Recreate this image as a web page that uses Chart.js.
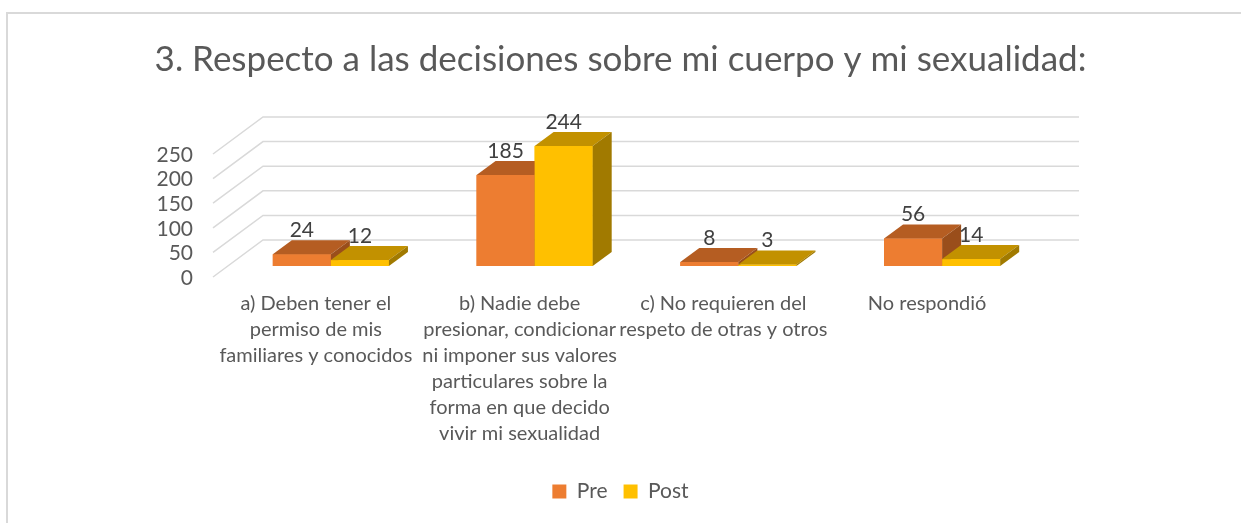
<!DOCTYPE html>
<html>
<head>
<meta charset="utf-8">
<script src="https://cdn.jsdelivr.net/npm/chart.js@4"></script>
<style>
  body { margin: 0; background: #fff; }
  #wrap { width: 1241px; height: 523px; }
</style>
</head>
<body>
<div id="wrap"><canvas id="decisionesChart"></canvas></div>
<script>
const categorias = [
  ["a) Deben tener el", "permiso de mis", "familiares y conocidos"],
  ["b) Nadie debe", "presionar, condicionar", "ni imponer sus valores", "particulares sobre la", "forma en que decido", "vivir mi sexualidad"],
  ["c) No requieren del", "respeto de otras y otros"],
  ["No respondió"]
];
const valoresPre = [24, 185, 8, 56];
const valoresPost = [12, 244, 3, 14];
const ticksY = [0, 50, 100, 150, 200, 250];

const FUENTE = "Lato, 'Open Sans', sans-serif";
const GRIS = '#595959';

// fake 3d: back wall, plane where the bars stand, depth of each bar
const FONDO = { dx: 50, dy: -37 };
const PLANO = { dx: 15, dy: -12 };
const PROF = { dx: 19, dy: -14 };

const caras = [
  { frente: '#ED7D31', techo: '#B55D22', lado: '#9A4E1B' },
  { frente: '#FFC000', techo: '#C29100', lado: '#A17A00' }
];

const marco = {
  id: 'marco',
  beforeDraw(chart) {
    const ctx = chart.ctx;
    ctx.save();
    ctx.strokeStyle = '#d9d9d9';
    ctx.lineWidth = 2;
    ctx.beginPath();
    ctx.moveTo(7, 523);
    ctx.lineTo(7, 13);
    ctx.lineTo(1241, 13);
    ctx.stroke();
    ctx.restore();
  }
};

const barras3d = {
  id: 'barras3d',
  beforeDatasetsDraw(chart) {
    const { ctx, chartArea, scales } = chart;
    ctx.save();
    ctx.strokeStyle = '#d9d9d9';
    ctx.lineWidth = 1.5;
    ticksY.forEach(v => {
      const py = scales.y.getPixelForValue(v) - 1;
      ctx.beginPath();
      ctx.moveTo(chartArea.left - 1, py);
      ctx.lineTo(chartArea.left - 1 + FONDO.dx, py + FONDO.dy);
      ctx.lineTo(chartArea.right + FONDO.dx, py + FONDO.dy);
      ctx.stroke();
    });
    ctx.restore();
    // bars sit a little behind the front edge
    ctx.save();
    ctx.translate(PLANO.dx, PLANO.dy);
  },
  afterDatasetsDraw(chart) {
    const ctx = chart.ctx;
    const metas = [chart.getDatasetMeta(0), chart.getDatasetMeta(1)];
    for (let i = 0; i < categorias.length; i++) {
      metas.forEach((meta, d) => {
        const bar = meta.data[i];
        const c = caras[d];
        const x0 = bar.x - bar.width / 2;
        const x1 = bar.x + bar.width / 2;
        const top = bar.y, base = bar.base;
        ctx.fillStyle = c.frente;
        ctx.fillRect(x0, top, x1 - x0, base - top);
        ctx.fillStyle = c.techo;
        ctx.beginPath();
        ctx.moveTo(x0, top);
        ctx.lineTo(x1, top);
        ctx.lineTo(x1 + PROF.dx, top + PROF.dy);
        ctx.lineTo(x0 + PROF.dx, top + PROF.dy);
        ctx.closePath();
        ctx.fill();
        ctx.fillStyle = c.lado;
        ctx.beginPath();
        ctx.moveTo(x1, top);
        ctx.lineTo(x1 + PROF.dx, top + PROF.dy);
        ctx.lineTo(x1 + PROF.dx, base + PROF.dy);
        ctx.lineTo(x1, base);
        ctx.closePath();
        ctx.fill();
      });
    }
    ctx.fillStyle = '#404040';
    ctx.font = '21px ' + FUENTE;
    ctx.textAlign = 'center';
    ctx.textBaseline = 'middle';
    metas.forEach((meta, d) => {
      meta.data.forEach((bar, i) => {
        ctx.fillText(String(chart.data.datasets[d].data[i]), bar.x, bar.y - 24);
      });
    });
    ctx.restore();
  }
};

const config = {
  type: 'bar',
  data: {
    labels: categorias,
    datasets: [
      { label: 'Pre', data: valoresPre, backgroundColor: caras[0].frente, borderWidth: 0 },
      { label: 'Post', data: valoresPost, backgroundColor: caras[1].frente, borderWidth: 0 }
    ]
  },
  options: {
    responsive: true,
    maintainAspectRatio: false,
    animation: false,
    layout: { padding: { top: 0, left: 0, right: 0, bottom: 11 } },
    datasets: { bar: { categoryPercentage: 0.57, barPercentage: 1.0 } },
    scales: {
      x: {
        grid: { display: false, drawTicks: false },
        border: { display: false },
        ticks: {
          color: GRIS, padding: 13, maxRotation: 0, autoSkip: false,
          font: { family: FUENTE, size: 20, lineHeight: 1.3 }
        },
        afterFit: axis => { axis.height = 187; }
      },
      y: {
        min: 0, max: 250,
        grid: { display: false, drawTicks: false },
        border: { display: false },
        ticks: { stepSize: 50, autoSkip: false, padding: 21, color: GRIS, font: { family: FUENTE, size: 21 } },
        afterFit: axis => { axis.width = 214; }
      },
      derecha: {
        type: 'linear', position: 'right', display: true,
        grid: { display: false, drawTicks: false },
        border: { display: false },
        ticks: { display: false },
        afterFit: axis => { axis.width = 212; }
      }
    },
    plugins: {
      title: {
        display: true,
        text: '3. Respecto a las decisiones sobre mi cuerpo y mi sexualidad:',
        color: GRIS,
        font: { family: FUENTE, size: 35, weight: 'normal', lineHeight: 1.2 },
        padding: { top: 39, bottom: 74 }
      },
      legend: {
        position: 'bottom',
        labels: {
          color: GRIS, boxWidth: 14, boxHeight: 14, padding: 16,
          font: { family: FUENTE, size: 21 }
        }
      },
      tooltip: { enabled: false }
    }
  },
  plugins: [marco, barras3d]
};

const decisionesChart = new Chart(document.getElementById('decisionesChart'), config);
</script>
</body>
</html>
